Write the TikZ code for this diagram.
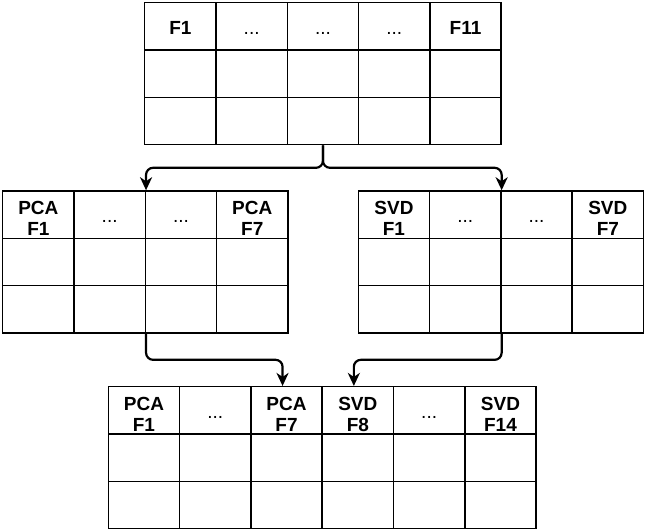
\documentclass[tikz,border=0pt]{standalone}
\usepackage{fontspec}
\setmainfont{Liberation Sans}
\usetikzlibrary{arrows.meta,calc}

\newcommand{\skipdots}{{\mdseries...}}

\begin{document}
\begin{tikzpicture}[x=1pt, y=-1pt, >={Stealth[length=13pt,width=12pt,inset=4pt]},
    cell/.style={draw, line width=1.5pt, minimum width=71.3pt, minimum height=47.3pt,
        inner sep=0pt, align=center, text depth=0pt,
        font=\fontsize{19}{21.3}\selectfont\bfseries},
    oneline/.style={text height=16pt},
    twoline/.style={text height=42pt},
    flow/.style={->, line width=2.2pt, rounded corners=7pt}]
    \useasboundingbox (0,0) rectangle (645,532);
    % source table
    \foreach \lbl/\sty [count=\c] in {F1/oneline,\skipdots/oneline,\skipdots/oneline,\skipdots/oneline,F11/oneline} {
        \node[cell,\sty] (top-1-\c) at ({180.35+71.3*(\c-1)}, 26.35) {\lbl};
        \foreach \r in {2,3}
            \node[cell] (top-\r-\c) at ({180.35+71.3*(\c-1)}, {26.35+47.3*(\r-1)}) {};
    }
    % PCA table
    \foreach \lbl/\sty [count=\c] in {{PCA\\F1}/twoline,\skipdots/oneline,\skipdots/oneline,{PCA\\F7}/twoline} {
        \node[cell,\sty] (pca-1-\c) at ({38.35+71.3*(\c-1)}, 214.65) {\lbl};
        \foreach \r in {2,3}
            \node[cell] (pca-\r-\c) at ({38.35+71.3*(\c-1)}, {214.65+47.3*(\r-1)}) {};
    }
    % SVD table
    \foreach \lbl/\sty [count=\c] in {{SVD\\F1}/twoline,\skipdots/oneline,\skipdots/oneline,{SVD\\F7}/twoline} {
        \node[cell,\sty] (svd-1-\c) at ({393.95+71.3*(\c-1)}, 214.65) {\lbl};
        \foreach \r in {2,3}
            \node[cell] (svd-\r-\c) at ({393.95+71.3*(\c-1)}, {214.65+47.3*(\r-1)}) {};
    }
    % merged table
    \foreach \lbl/\sty [count=\c] in {{PCA\\F1}/twoline,\skipdots/oneline,{PCA\\F7}/twoline,{SVD\\F8}/twoline,\skipdots/oneline,{SVD\\F14}/twoline} {
        \node[cell,\sty] (bot-1-\c) at ({143.95+71.3*(\c-1)}, 410.35) {\lbl};
        \foreach \r in {2,3}
            \node[cell] (bot-\r-\c) at ({143.95+71.3*(\c-1)}, {410.35+47.3*(\r-1)}) {};
    }
    % connectors
    \coordinate (split) at ($(top-3-3.south)!.5!(top-3-3.south |- pca-1-1.north)$);
    \draw[flow] (top-3-3.south) -- (split) -| (pca-1-2.north east);
    \draw[flow] (top-3-3.south) -- (split) -| (svd-1-2.north east);
    \coordinate (join) at ($(pca-3-2.south east)!.5!(pca-3-2.south east |- bot-1-1.north)$);
    \coordinate (pca-in) at ($(bot-1-3.north)+(-4,0)$);
    \coordinate (svd-in) at ($(bot-1-4.north)+(-4,0)$);
    \draw[flow] (pca-3-2.south east) -- (pca-3-2.south east |- join) -| (pca-in);
    \draw[flow] (svd-3-2.south east) -- (svd-3-2.south east |- join) -| (svd-in);
\end{tikzpicture}
\end{document}
